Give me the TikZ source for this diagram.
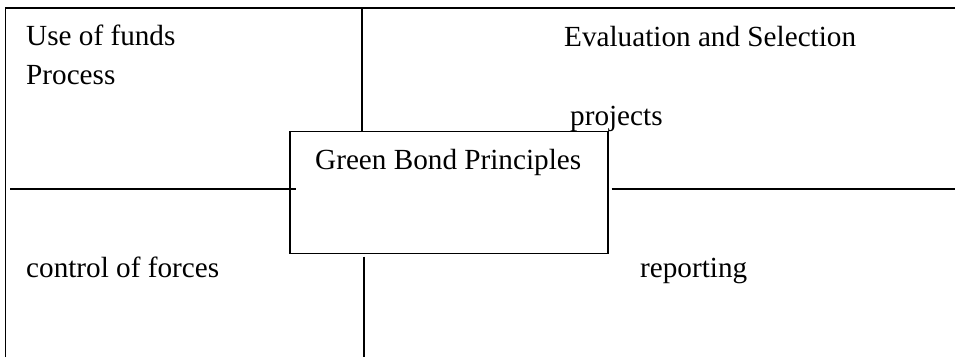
\documentclass[tikz,border=0pt]{standalone}
\usepackage{fontspec}
\setmainfont{Liberation Serif}
\begin{document}
\begin{tikzpicture}[x=1pt,y=-1pt,
  rule/.style={line width=1.7pt},
  lbl/.style={anchor=base west,inner sep=0pt,font=\fontsize{29.2}{34}\selectfont},
  boxnode/.style={draw,line width=1.7pt,anchor=north west,inner sep=0pt,minimum width=318pt,minimum height=122pt}]
\useasboundingbox (0,0) rectangle (955,357);
% frame corners and ends
\coordinate (bl) at (5.5,357);
\coordinate (tl) at (5.5,8);
\coordinate (tr) at (955,8);
\coordinate (topdiv) at (362,8);
\coordinate (lh1) at (10,189.3);
\coordinate (lh2) at (296,189.3);
\coordinate (rh1) at (611.7,189.3);
\coordinate (rh2) at (955,189.3);
\coordinate (bv1) at (364,256.7);
\coordinate (bv2) at (364,357);
% central box
\node[boxnode] (gbp) at (289,130.5) {};
\node[lbl] (gbptxt) at (315,169) {Green Bond Principles};
% lines
\draw[rule] (bl) -- (tl) -- (tr);
\draw[rule] (topdiv) -- (topdiv |- gbp.north);
\draw[rule] (lh1) -- (lh2);
\draw[rule] (rh1) -- (rh2);
\draw[rule] (bv1) -- (bv2);
% labels
\node[lbl] (use) at (26,45.7) {Use of funds};
\node[lbl] (proc) at (26,84) {Process};
\node[lbl] (eval) at (564,46.7) {Evaluation and Selection};
\node[lbl] (proj) at (570,125) {projects};
\node[lbl] (ctrl) at (26,277.5) {control of forces};
\node[lbl] (rep) at (640,277.5) {reporting};
\end{tikzpicture}
\end{document}
